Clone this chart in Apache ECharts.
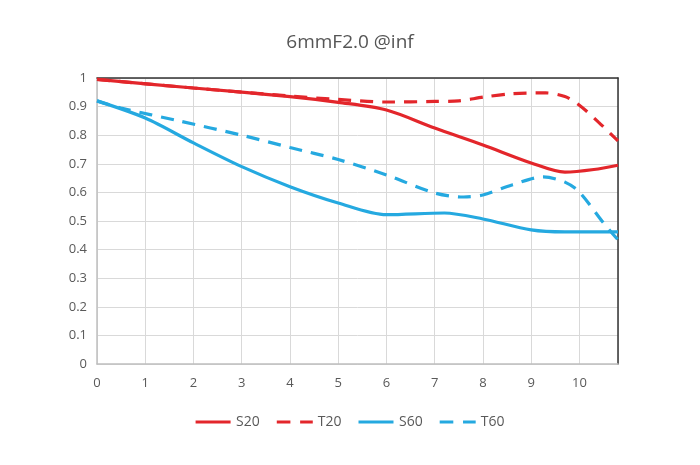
<!DOCTYPE html>
<html>
<head>
<meta charset="utf-8">
<script src="https://cdn.jsdelivr.net/npm/echarts@6/dist/echarts.min.js"></script>
<style>html,body{margin:0;padding:0;background:#fff;}#c{width:700px;height:465px;}</style>
</head>
<body>
<div id="c"></div>
<script>
const S20x = [0, 2, 4, 5, 6, 7, 8, 9, 9.7, 10.3, 10.8];
const S20y = [0.995, 0.965, 0.935, 0.915, 0.888, 0.825, 0.766, 0.703, 0.671, 0.68, 0.695];
const T20x = [0, 2, 4, 5, 6, 7, 7.5, 8, 8.6, 9.3, 9.7, 10, 10.4, 10.8];
const T20y = [0.995, 0.965, 0.937, 0.925, 0.916, 0.918, 0.92, 0.933, 0.945, 0.948, 0.935, 0.905, 0.845, 0.78];
const S60x = [0, 1, 2, 3, 4, 5, 6, 7.2, 8, 9, 9.7, 10.8];
const S60y = [0.92, 0.86, 0.773, 0.69, 0.62, 0.563, 0.522, 0.528, 0.507, 0.469, 0.462, 0.462];
const T60x = [0, 0.5, 1.7, 3, 4, 5, 6, 7, 7.6, 8, 8.6, 9.25, 9.7, 10, 10.5, 10.8];
const T60y = [0.92, 0.895, 0.85, 0.80, 0.757, 0.715, 0.661, 0.598, 0.584, 0.591, 0.626, 0.654, 0.636, 0.601, 0.493, 0.434];
const names = ['S20', 'T20', 'S60', 'T60'];
const titleText = '6mmF2.0 @inf';

const RED = '#e3262b', BLUE = '#25a9e0';
const FONT = '"Open Sans", "Noto Sans", sans-serif';
const SOLID_ICON = 'path://M0,0h35v3h-35z';
const DASH_ICON = 'path://M0,0h14v3h-14z M24,0h13v3h-13z';
function pairs(xv, yv){ return xv.map((x,i)=>[x, yv[i]]); }
function mk(name, xv, yv, color, dashed){
  return {
    name, type:'line', data: pairs(xv, yv), smooth: 0.3, showSymbol:false, symbol:'none',
    lineStyle:{color, width:3.2, type: dashed ? [13, 9] : 'solid'},
    itemStyle:{color}
  };
}
const dashedSet = {T20:true, T60:true};
const chart = echarts.init(document.getElementById('c'));
chart.setOption({
  animation:false,
  backgroundColor:'#fff',
  title:{text:titleText, left:'center', top:28,
    textStyle:{fontFamily:FONT, fontSize:19, fontWeight:'normal', color:'#555555'}},
  legend:{bottom:31, left:'center', itemWidth:36, itemHeight:3, itemGap:17,
    textStyle:{fontFamily:FONT, fontSize:14, color:'#595959'},
    data: names.map(n=>({name:n, icon: dashedSet[n] ? DASH_ICON : SOLID_ICON}))
  },
  grid:{left:97, right:82, top:78, bottom:101},
  xAxis:[{type:'value', min:0, max:10.8, interval:1,
    axisLine:{lineStyle:{color:'#bfbfbf', width:1.5}},
    axisTick:{show:false},
    axisLabel:{color:'#595959', fontFamily:FONT, fontSize:13, margin:13, showMaxLabel:false,
      formatter:v=> Number.isInteger(v) ? String(v) : ''},
    splitLine:{show:true, lineStyle:{color:'#d9d9d9', width:1}}
  },{type:'value', position:'top', min:0, max:10.8,
    axisLine:{show:true, onZero:false, lineStyle:{color:'#333', width:1.5}}, axisTick:{show:false},
    axisLabel:{show:false}, splitLine:{show:false}}],
  yAxis:[{type:'value', min:0, max:1, interval:0.1,
    axisLine:{show:true, lineStyle:{color:'#bfbfbf', width:1.5}},
    axisTick:{show:false},
    axisLabel:{color:'#595959', fontFamily:FONT, fontSize:13, margin:10,
      formatter:v=> String(Math.round(v*10)/10)},
    splitLine:{show:true, lineStyle:{color:'#d9d9d9', width:1}}
  },{type:'value', position:'right', min:0, max:1,
    axisLine:{show:true, onZero:false, lineStyle:{color:'#333', width:1.5}}, axisTick:{show:false},
    axisLabel:{show:false}, splitLine:{show:false}}],
  series:[
    mk('S20', S20x, S20y, RED, false),
    mk('T20', T20x, T20y, RED, true),
    mk('S60', S60x, S60y, BLUE, false),
    mk('T60', T60x, T60y, BLUE, true)
  ]
});
</script>
</body>
</html>
